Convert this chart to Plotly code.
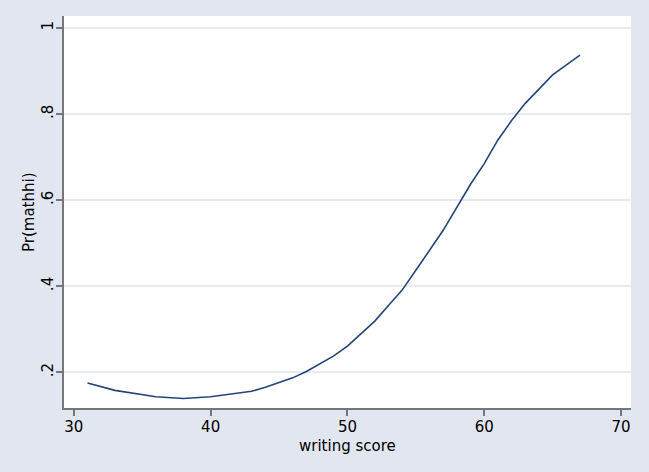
import plotly.graph_objects as go

write_score = [31, 33, 36, 38, 40, 43, 44, 46, 47, 49, 50, 52, 53, 54, 55, 57, 59, 60, 61, 62, 63, 65, 67]
pr_mathhi = [0.175, 0.158, 0.143, 0.139, 0.143, 0.156, 0.165, 0.187, 0.202, 0.238, 0.261, 0.319,
             0.355, 0.391, 0.437, 0.530, 0.637, 0.685, 0.740, 0.785, 0.825, 0.891, 0.937]

x_ticks = [30, 40, 50, 60, 70]
y_ticks = [0.2, 0.4, 0.6, 0.8, 1.0]
y_tick_labels = [".2", ".4", ".6", ".8", "1"]

W, H = 649, 472
fig = go.Figure()
fig.add_trace(go.Scatter(x=write_score, y=pr_mathhi, mode="lines",
                         line=dict(color="#26437a", width=1.6), showlegend=False))

font = dict(family="DejaVu Sans, Arial, sans-serif", size=15, color="#000000")
fig.update_layout(
    width=W, height=H,
    margin=dict(l=64, r=18, t=16, b=64, autoexpand=False),
    paper_bgcolor="#e1e6f0",
    plot_bgcolor="#ffffff",
    font=font,
    xaxis=dict(range=[29.28, 70.73], tickvals=x_ticks, showgrid=False, zeroline=False,
               showline=True, linecolor="#777777", linewidth=2, automargin=False,
               ticks="outside", ticklen=6, tickwidth=2, tickcolor="#777777",
               ticklabelstandoff=-2),
    yaxis=dict(range=[0.117, 1.028], tickvals=y_ticks, ticktext=y_tick_labels, tickangle=-90,
               showgrid=True, gridcolor="#e6ebf2", gridwidth=2, zeroline=False,
               showline=True, linecolor="#777777", linewidth=2, automargin=False,
               ticks="outside", ticklen=6, tickwidth=2, tickcolor="#777777",
               ticklabelstandoff=-3),
    annotations=[
        dict(text="writing score", xref="paper", yref="paper", x=0.5, y=-(446 - 408) / (H - 80),
             xanchor="center", yanchor="middle", showarrow=False, font=font),
        dict(text="Pr(mathhi)", xref="paper", yref="paper", x=-(64 - 29) / (W - 82), y=0.5,
             xanchor="center", yanchor="middle", textangle=-90, showarrow=False, font=font),
    ],
)
fig.write_html("out.html", config={"displayModeBar": False},
               post_script="document.body.style.margin='0';document.body.style.overflow='hidden';")
